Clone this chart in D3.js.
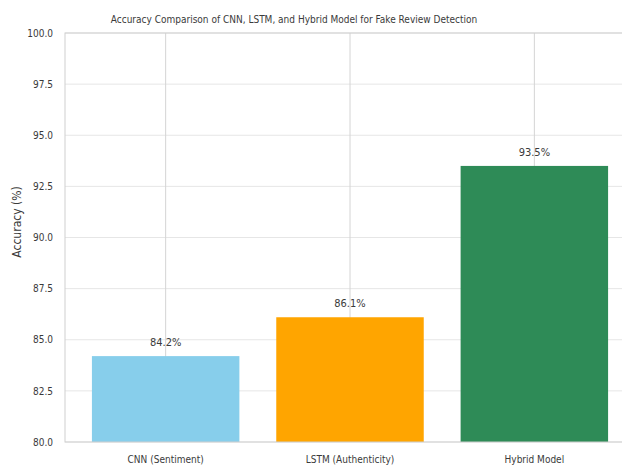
<!DOCTYPE html>
<html>
<head>
<meta charset="utf-8">
<script src="https://cdn.jsdelivr.net/npm/d3@7"></script>
<style>
  body { margin: 0; background: #fff; }
  svg text { font-family: "DejaVu Sans Condensed", "Liberation Sans Narrow", "DejaVu Sans", sans-serif; font-stretch: condensed; fill: #3a3a3a; }
</style>
</head>
<body>
<svg id="chart" width="622" height="466"></svg>
<script>
// chart values
var categories = ["CNN (Sentiment)", "LSTM (Authenticity)", "Hybrid Model"];
var accuracy = [84.2, 86.1, 93.5];
var barColors = ["#87ceeb", "#ffa500", "#2e8b57"];
var yTicks = [80, 82.5, 85, 87.5, 90, 92.5, 95, 97.5, 100];
var title = "Accuracy Comparison of CNN, LSTM, and Hybrid Model for Fake Review Detection";

var svg = d3.select("#chart");
var margin = {top: 33, left: 65, bottom: 442, right: 635};

var x = d3.scaleBand()
  .domain(categories)
  .range([margin.left, margin.right])
  .paddingInner(0.2)
  .paddingOuter(0.146);

var y = d3.scaleLinear()
  .domain([80, 100])
  .range([margin.bottom, margin.top]);

// grid
svg.append("g")
  .selectAll("line")
  .data(yTicks)
  .enter().append("line")
  .attr("x1", margin.left).attr("x2", margin.right)
  .attr("y1", function(d) { return y(d); })
  .attr("y2", function(d) { return y(d); })
  .attr("stroke", "#e6e6e6");

svg.append("g")
  .selectAll("line")
  .data(categories)
  .enter().append("line")
  .attr("x1", function(d) { return x(d) + x.bandwidth() / 2; })
  .attr("x2", function(d) { return x(d) + x.bandwidth() / 2; })
  .attr("y1", margin.top).attr("y2", margin.bottom)
  .attr("stroke", "#d4d4d4");

// bars
svg.append("g")
  .selectAll("rect")
  .data(accuracy)
  .enter().append("rect")
  .attr("x", function(d, i) { return x(categories[i]); })
  .attr("y", function(d) { return y(d); })
  .attr("width", x.bandwidth())
  .attr("height", function(d) { return y(80) - y(d); })
  .attr("fill", function(d, i) { return barColors[i]; });

// value labels
svg.append("g")
  .selectAll("text")
  .data(accuracy)
  .enter().append("text")
  .attr("x", function(d, i) { return x(categories[i]) + x.bandwidth() / 2; })
  .attr("y", function(d) { return y(d + 0.5); })
  .attr("text-anchor", "middle")
  .attr("font-size", 11)
  .text(function(d) { return d.toFixed(1) + "%"; });

// frame
svg.append("rect")
  .attr("x", margin.left).attr("y", margin.top)
  .attr("width", margin.right - margin.left)
  .attr("height", margin.bottom - margin.top)
  .attr("fill", "none")
  .attr("stroke", "#cfcfcf");

// axes
var yAxis = svg.append("g")
  .attr("transform", "translate(" + margin.left + ",0)")
  .call(d3.axisLeft(y).tickValues(yTicks).tickSize(0).tickPadding(12)
    .tickFormat(d3.format(".1f")));
yAxis.select(".domain").remove();
yAxis.selectAll("text").attr("font-size", 10).style("font-family", null);

var xAxis = svg.append("g")
  .attr("transform", "translate(0," + margin.bottom + ")")
  .call(d3.axisBottom(x).tickSize(0).tickPadding(14));
xAxis.select(".domain").remove();
xAxis.selectAll("text").attr("font-size", 10).style("font-family", null);

// titles
svg.append("text")
  .attr("x", 294).attr("y", 23)
  .attr("text-anchor", "middle")
  .attr("font-size", 10)
  .text(title);

svg.append("text")
  .attr("transform", "translate(21,222) rotate(-90)")
  .attr("text-anchor", "middle")
  .attr("font-size", 12)
  .text("Accuracy (%)");
</script>
</body>
</html>
